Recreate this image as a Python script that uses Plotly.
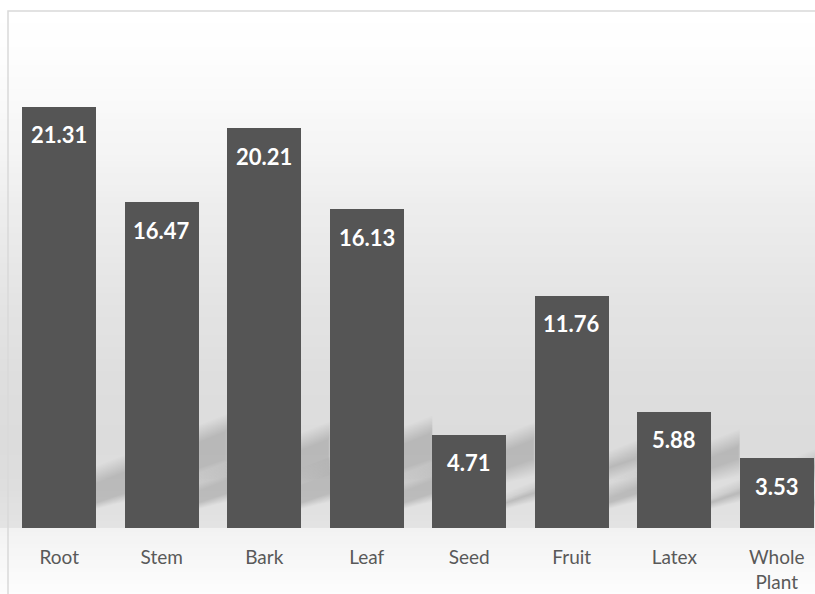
import plotly.graph_objects as go

# ---- data ----
categories = ["Root", "Stem", "Bark", "Leaf", "Seed", "Fruit", "Latex", "Whole Plant"]
tick_labels = ["Root", "Stem", "Bark", "Leaf", "Seed", "Fruit", "Latex", "Whole<br>Plant"]
values = [21.31, 16.47, 20.21, 16.13, 4.71, 11.76, 5.88, 3.53]
value_labels = ["21.31", "16.47", "20.21", "16.13", "4.71", "11.76", "5.88", "3.53"]

# ---- layout geometry ----
W, H = 815, 594
ML, MT, MB = 8, 11, 66
plot_w = W - ML
plot_h = H - MT - MB
Y_MAX = 26.15
CAT_PX = 102.5
X0 = -0.5
X1 = X0 + plot_w / CAT_PX
PX_PER_Y = plot_h / Y_MAX
BAR_W = 0.72
BAR_COLOR = "#555555"
FONT = "Lato"

shapes = []

# background gradient (pixel y, gray level)
stops_top = [(11, 255), (60, 253), (150, 245), (200, 238), (300, 228), (380, 222),
             (440, 220), (490, 222), (528, 228)]
stops_bot = [(528, 242), (594, 253)]


def interp(stops, y):
    for (y0, g0), (y1, g1) in zip(stops[:-1], stops[1:]):
        if y0 <= y <= y1:
            t = (y - y0) / (y1 - y0) if y1 != y0 else 0
            return g0 + t * (g1 - g0)
    return stops[-1][1]


def py2paper(ypx):
    return (H - MB - ypx) / plot_h


def add_bands(stops, step):
    y = stops[0][0]
    end = stops[-1][0]
    while y < end:
        y2 = min(y + step, end)
        g = int(round(interp(stops, (y + y2) / 2)))
        col = f"rgb({g},{g},{g})"
        shapes.append(dict(type="rect", xref="paper", yref="paper",
                           x0=-0.02, x1=1.02, y0=py2paper(y2 + 0.5), y1=py2paper(y),
                           fillcolor=col, line=dict(width=0), layer="below"))
        y = y2


add_bands(stops_top, 6)
add_bands(stops_bot, 4)

# soft perspective shadows (decoration derived from bar heights)
SLOPE = 0.4
LIFT = 11
EXT = 135
layers = [(11 - 1.5 * k, 0.013) for k in range(12)]
for i, v in enumerate(values):
    h_px = v * PX_PER_Y
    sh = 0.08 * h_px + 6
    xl = i - BAR_W / 2
    xr = i + BAR_W / 2
    limit = (i + 2) - BAR_W / 2  # shadow stops at the bar two places to the right
    for e, op in layers:
        xa = xl
        xb = min(xr + (EXT + e) / CAT_PX, limit)
        dxa = (xa - xr) * CAT_PX
        dxb = (xb - xr) * CAT_PX
        yb_a = (LIFT - e + SLOPE * dxa) / PX_PER_Y
        yb_b = (LIFT - e + SLOPE * dxb) / PX_PER_Y
        yt_a = (LIFT + sh + e + SLOPE * dxa) / PX_PER_Y
        yt_b = (LIFT + sh + e + SLOPE * dxb) / PX_PER_Y
        path = f"M {xa},{max(yb_a, 0)} L {xb},{max(yb_b, 0)} L {xb},{yt_b} L {xa},{max(yt_a, 0)} Z"
        shapes.append(dict(type="path", xref="x", yref="y", path=path,
                           fillcolor=f"rgba(0,0,0,{op})", line=dict(width=0), layer="below"))

# chart border
shapes.append(dict(type="rect", xref="paper", yref="paper",
                   x0=0, x1=1.05, y0=-0.5, y1=1,
                   fillcolor="rgba(0,0,0,0)", line=dict(color="#d9d9d9", width=1.5),
                   layer="above"))

fig = go.Figure()
fig.add_trace(go.Bar(
    x=categories, y=values, width=BAR_W,
    marker=dict(color=BAR_COLOR, line=dict(width=0)),
    hoverinfo="skip",
))

annotations = []
for c, v, lab in zip(categories, values, value_labels):
    annotations.append(dict(x=c, y=v, xref="x", yref="y", text=f"<b>{lab}</b>",
                            showarrow=False, yanchor="middle", yshift=-28,
                            font=dict(family=FONT, size=22, color="white")))

fig.update_layout(
    width=W, height=H,
    margin=dict(l=ML, r=0, t=MT, b=MB, pad=0),
    paper_bgcolor="white",
    plot_bgcolor="rgba(0,0,0,0)",
    showlegend=False,
    shapes=shapes,
    annotations=annotations,
    bargap=0,
    xaxis=dict(
        range=[X0, X1], tickmode="array", tickvals=categories, ticktext=tick_labels,
        showgrid=False, zeroline=False, showline=False, ticks="",
        tickfont=dict(family=FONT, size=19, color="#595959"),
        ticklabelstandoff=16, fixedrange=True,
    ),
    yaxis=dict(range=[0, Y_MAX], visible=False, showgrid=False, zeroline=False,
               fixedrange=True),
)

fig.write_html("out.html")
